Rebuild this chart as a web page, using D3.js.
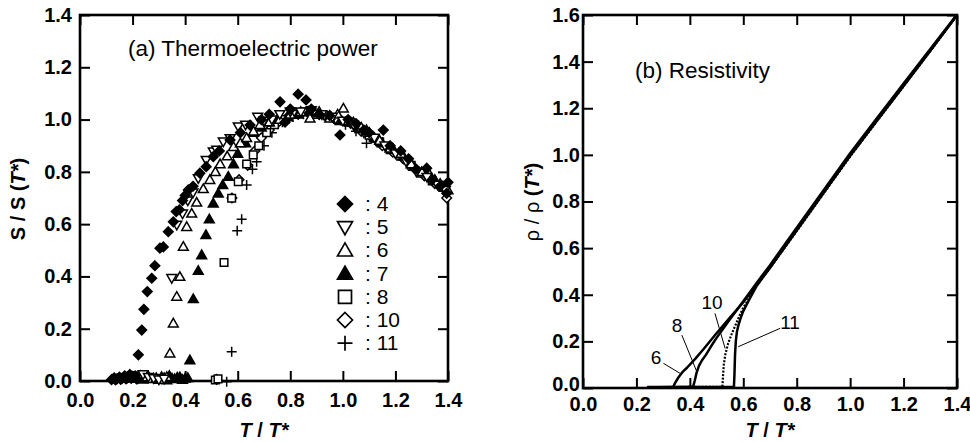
<!DOCTYPE html>
<html lang="en">
<head>
<meta charset="UTF-8">
<title>Thermoelectric power and resistivity</title>
<script src="https://cdnjs.cloudflare.com/ajax/libs/d3/7.8.5/d3.min.js"></script>
<style>
  body { margin: 0; background: #fff; }
  svg { display: block; font-family: "Liberation Sans", Arial, Helvetica, sans-serif; }
</style>
</head>
<body>
<svg id="main" width="970" height="442"></svg>
<script>
    // ---- (a) thermoelectric power, S/S(T*) vs T/T*  [x, y] ----
    const s4 = [[0.12,0.005],[0.13,0.012],[0.135,0.004],[0.14,0.008],[0.15,0.015],[0.155,0.006],[0.16,0.01],[0.17,0.02],[0.175,0.008],
        [0.18,0.012],[0.19,0.025],[0.195,0.01],[0.2,0.018],[0.21,0.02],[0.215,0.008],
        [0.222,0.10],[0.235,0.195],[0.243,0.274],[0.256,0.342],[0.273,0.393],[0.285,0.441],[0.304,0.508],[0.317,0.513],[0.336,0.571],[0.355,0.609],
        [0.366,0.648],[0.378,0.655],[0.39,0.69],[0.40,0.71],[0.412,0.731],[0.43,0.745],[0.456,0.795],[0.48,0.82],[0.507,0.858],[0.53,0.88],
        [0.571,0.922],[0.61,0.95],[0.647,0.979],[0.69,1.0],[0.72,1.02],[0.761,1.068],[0.78,0.99],[0.80,1.04],[0.83,1.097],[0.86,1.075],
        [0.88,1.04],[0.91,1.02],[0.95,1.015],[0.989,0.941],[1.02,1.0],[1.05,0.985],[1.08,0.96],[1.1,0.95],[1.154,0.96],[1.18,0.9],
        [1.22,0.88],[1.25,0.85],[1.28,0.81],[1.319,0.814],[1.34,0.77],[1.37,0.745],[1.395,0.718],[1.40,0.76]];
    const s5 = [[0.2,0.02],[0.22,0.01],[0.24,0.025],[0.26,0.015],[0.28,0.01],[0.3,0.005],[0.32,0.008],
        [0.349,0.393],[0.368,0.597],[0.39,0.64],[0.41,0.69],[0.43,0.72],[0.45,0.775],[0.48,0.845],[0.507,0.877],[0.52,0.884],
        [0.545,0.915],[0.571,0.928],[0.602,0.973],[0.63,0.98],[0.676,1.01],[0.70,0.995],[0.73,1.0],[0.76,1.02],[0.8,1.03],[0.84,1.03],
        [0.88,1.035],[0.92,1.02],[0.96,1.01],[1.0,0.995],[1.04,0.98],[1.08,0.95],[1.12,0.93],[1.16,0.9],[1.2,0.87],[1.24,0.84],
        [1.28,0.8],[1.32,0.78],[1.36,0.75],[1.39,0.73]];
    const s6 = [[0.2,0.01],[0.23,0.02],[0.25,0.015],[0.27,0.008],[0.29,0.012],[0.31,0.005],
        [0.33,0.016],[0.342,0.106],[0.355,0.221],[0.368,0.323],[0.38,0.399],[0.393,0.514],[0.406,0.59],[0.425,0.641],[0.444,0.683],
        [0.469,0.735],[0.494,0.77],[0.515,0.8],[0.533,0.83],[0.56,0.86],[0.584,0.896],[0.61,0.91],[0.634,0.93],[0.66,0.955],[0.685,0.98],
        [0.72,0.99],[0.76,1.0],[0.8,1.02],[0.84,1.03],[0.875,1.005],[0.91,1.03],[0.95,1.005],[0.98,1.02],[1.002,1.043],[1.04,0.99],
        [1.07,0.97],[1.1,0.95],[1.14,0.92],[1.18,0.89],[1.22,0.87],[1.26,0.83],[1.3,0.8],[1.33,0.79],[1.37,0.755],[1.4,0.73]];
    const s7 = [[0.22,0.012],[0.24,0.006],[0.26,0.018],[0.28,0.01],[0.3,0.005],[0.31,0.016],[0.32,0.012],[0.33,0.004],[0.34,0.02],
        [0.35,0.01],[0.36,0.008],[0.37,0.014],[0.38,0.015],[0.39,0.005],[0.4,0.01],[0.41,0.012],
        [0.418,0.08],[0.431,0.314],[0.45,0.422],[0.463,0.482],[0.479,0.559],[0.492,0.619],[0.507,0.68],[0.526,0.718],[0.543,0.75],
        [0.564,0.782],[0.584,0.83],[0.60,0.87],[0.63,0.91],[0.66,0.95],[0.69,0.97],[0.72,0.99],[0.75,1.0],[0.79,1.01],[0.83,1.02],
        [0.87,1.03],[0.91,1.025],[0.95,1.015],[0.99,0.995],[1.03,0.99],[1.06,0.97],[1.09,0.96],[1.12,0.93],[1.15,0.91],[1.19,0.89],
        [1.23,0.86],[1.27,0.82],[1.31,0.8],[1.35,0.77],[1.39,0.745]];
    const s8 = [[0.515,0.004],[0.525,0.008],[0.548,0.453],[0.577,0.699],[0.602,0.762],[0.634,0.83],[0.659,0.865],[0.68,0.9],[0.71,0.95],
        [0.74,0.98],[0.78,1.0],[0.82,1.02],[0.86,1.03],[0.9,1.02],[0.94,1.015],[0.98,1.0],[1.02,0.99],[1.06,0.965],[1.1,0.94],
        [1.14,0.915],[1.18,0.885],[1.22,0.86],[1.26,0.825],[1.3,0.795],[1.34,0.765],[1.38,0.74]];
    const s10 = [[0.52,0.006],[0.578,0.70],[0.605,0.77],[0.638,0.825],[0.665,0.88],[0.69,0.93],[0.72,0.96],[0.75,0.985],[0.79,1.01],
        [0.83,1.02],[0.87,1.025],[0.91,1.02],[0.95,1.01],[0.99,1.0],[1.03,0.985],[1.07,0.955],[1.11,0.93],[1.15,0.9],[1.19,0.875],
        [1.23,0.85],[1.27,0.815],[1.31,0.785],[1.35,0.755],[1.395,0.70]];
    const s11 = [[0.558,-0.003],[0.577,0.112],[0.598,0.575],[0.615,0.619],[0.634,0.75],[0.656,0.81],[0.672,0.839],[0.7,0.9],[0.73,0.95],
        [0.77,0.99],[0.81,1.01],[0.85,1.02],[0.89,1.03],[0.93,1.015],[0.97,1.0],[1.01,0.98],[1.05,0.955],[1.09,0.909],[1.13,0.915],
        [1.17,0.895],[1.21,0.865],[1.25,0.835],[1.29,0.8],[1.33,0.78],[1.37,0.75]];

    const legendNames = ['4', '5', '6', '7', '8', '10', '11'];
    const legendSymbols = ['diamondFill', 'triDown', 'tri', 'triFill', 'square', 'diamond', 'plus'];

    // ---- (b) resistivity, rho/rho(T*) vs T/T* ----
    const r6 = [[0.24,0.004],[0.338,0.005],[0.345,0.022],[0.357,0.045],[0.372,0.068],[0.39,0.088],[0.42,0.125],[0.45,0.165],[0.5,0.235],
        [0.55,0.302],[0.6,0.368],[0.65,0.443],[0.7,0.518],[0.8,0.678],[0.9,0.838],[1.0,0.997],[1.1,1.148],[1.2,1.298],[1.3,1.448],[1.4,1.6]];
    const r8 = [[0.27,0.003],[0.412,0.005],[0.418,0.03],[0.425,0.065],[0.434,0.095],[0.445,0.118],[0.46,0.142],[0.48,0.18],[0.5,0.215],
        [0.55,0.295],[0.6,0.372],[0.65,0.451],[0.7,0.527],[0.8,0.688],[0.9,0.847],[1.0,1.007],[1.1,1.157],[1.2,1.306],[1.3,1.454],[1.4,1.602]];
    const r10 = [[0.3,0.004],[0.522,0.005],[0.524,0.05],[0.527,0.1],[0.533,0.145],[0.543,0.19],[0.556,0.23],[0.57,0.268],[0.585,0.308],
        [0.6,0.345],[0.615,0.372],[0.65,0.44],[0.7,0.514],[0.8,0.673],[0.9,0.833],[1.0,0.993],[1.1,1.144],[1.2,1.294],[1.3,1.445],[1.4,1.598]];
    const r11 = [[0.35,0.004],[0.565,0.005],[0.567,0.06],[0.569,0.14],[0.572,0.2],[0.576,0.24],[0.582,0.27],[0.59,0.3],[0.6,0.33],
        [0.61,0.352],[0.625,0.385],[0.65,0.438],[0.7,0.516],[0.8,0.676],[0.9,0.836],[1.0,0.996],[1.1,1.146],[1.2,1.296],[1.3,1.447],[1.4,1.6]];

    // curve labels: text position, then leader line start -> end (data units)
    const curveLabels = [
        { name: '6',  at: [0.273, 0.133], from: [0.301, 0.106], to: [0.363, 0.063] },
        { name: '8',  at: [0.352, 0.27],  from: [0.370, 0.227], to: [0.426, 0.070] },
        { name: '10', at: [0.483, 0.37],  from: [0.494, 0.320], to: [0.532, 0.170] },
        { name: '11', at: [0.775, 0.285], from: [0.738, 0.256], to: [0.581, 0.177] }
    ];

    const xTicks = [0, 0.2, 0.4, 0.6, 0.8, 1.0, 1.2, 1.4];
    const sTicks = [0, 0.2, 0.4, 0.6, 0.8, 1.0, 1.2, 1.4];
    const rhoTicks = [0, 0.2, 0.4, 0.6, 0.8, 1.0, 1.2, 1.4, 1.6];

    const svg = d3.select('#main');
    const fmt = d3.format('.1f');

    const xA = d3.scaleLinear().domain([0, 1.4]).range([80, 448]);
    const yA = d3.scaleLinear().domain([0, 1.4]).range([381, 15]);
    const xB = d3.scaleLinear().domain([0, 1.4]).range([583, 957]);
    const yB = d3.scaleLinear().domain([0, 1.6]).range([388, 15]);

    function frame(x, y, yt, padX, padY) {
        const [x0, x1] = x.range(), [y0, y1] = y.range();
        const g = svg.append('g');
        const ax = (axis, tx, ty) => {
            const a = g.append('g').attr('transform', `translate(${tx},${ty})`).call(axis);
            a.select('.domain').remove();
            a.selectAll('.tick line').attr('stroke', '#000').attr('stroke-width', 2);
            a.selectAll('text').attr('font-size', 20).attr('font-weight', 'bold')
                .attr('font-family', '"Liberation Sans", Arial, sans-serif').attr('fill', '#000');
            return a;
        };
        ax(d3.axisBottom(x).tickValues(xTicks).tickFormat(fmt).tickSize(-10).tickPadding(padX), 0, y0);
        ax(d3.axisTop(x).tickValues(xTicks).tickFormat('').tickSize(-10), 0, y1);
        const left = ax(d3.axisLeft(y).tickValues(yt).tickFormat(fmt).tickSize(-10).tickPadding(padY), x0, 0);
        ax(d3.axisRight(y).tickValues(yt).tickFormat('').tickSize(-10), x1, 0);
        g.append('rect').attr('x', x0).attr('y', y1).attr('width', x1 - x0).attr('height', y0 - y1)
            .attr('fill', 'none').attr('stroke', '#000').attr('stroke-width', 2.6);
        return left;
    }

    frame(xA, yA, sTicks, 12, 8);
    const leftB = frame(xB, yB, rhoTicks, 9, 3);
    // lift the corner "0.0" a little so it does not sit on the x label
    leftB.selectAll('.tick text').filter(d => d === 0).attr('dy', '0.1em');

    // marker shapes
    const shapes = {
        diamondFill: { d: r => `M0,${-r}L${r},0L0,${r}L${-r},0Z`, fill: '#000', r: 4.8 },
        diamond:     { d: r => `M0,${-r}L${r},0L0,${r}L${-r},0Z`, fill: '#fff', r: 4.8 },
        tri:         { d: r => `M0,${-r}L${r},${r * 0.75}L${-r},${r * 0.75}Z`, fill: '#fff', r: 4.9 },
        triFill:     { d: r => `M0,${-r}L${r},${r * 0.75}L${-r},${r * 0.75}Z`, fill: '#000', r: 4.9 },
        triDown:     { d: r => `M0,${r}L${r},${-r * 0.75}L${-r},${-r * 0.75}Z`, fill: '#fff', r: 4.9 },
        square:      { d: r => `M${-r},${-r}H${r}V${r}H${-r}Z`, fill: '#fff', r: 3.8 },
        plus:        { d: r => `M${-r},0H${r}M0,${-r}V${r}`, fill: 'none', r: 5 }
    };

    function drawSeries(data, type) {
        const sh = shapes[type];
        svg.append('g').selectAll('path').data(data).join('path')
            .attr('transform', d => `translate(${xA(d[0])},${yA(d[1])})`)
            .attr('d', sh.d(sh.r))
            .attr('fill', sh.fill).attr('stroke', '#000').attr('stroke-width', 1.5);
    }

    drawSeries(s11, 'plus');
    drawSeries(s10, 'diamond');
    drawSeries(s8, 'square');
    drawSeries(s7, 'triFill');
    drawSeries(s6, 'tri');
    drawSeries(s5, 'triDown');
    drawSeries(s4, 'diamondFill');

    // panel (a) texts
    svg.append('text').attr('x', 128).attr('y', 56).attr('font-size', 22.5)
        .text('(a) Thermoelectric power');

    const leg = svg.append('g').selectAll('g').data(legendNames).join('g')
        .attr('transform', (d, i) => `translate(345,${204 + i * 23.2})`);
    leg.append('path')
        .attr('d', (d, i) => shapes[legendSymbols[i]].d(legendSymbols[i] === 'square' ? 6.5 : 7.5))
        .attr('fill', (d, i) => shapes[legendSymbols[i]].fill)
        .attr('stroke', '#000').attr('stroke-width', 1.7);
    leg.append('text').attr('x', 20).attr('y', 7).attr('font-size', 21).text(d => ': ' + d);

    // axis titles
    const tT = (x, y) => {
        const t = svg.append('text').attr('x', x).attr('y', y).attr('text-anchor', 'middle')
            .attr('font-size', 20).attr('font-weight', 'bold');
        t.append('tspan').attr('font-style', 'italic').text('T');
        t.append('tspan').text(' / ');
        t.append('tspan').attr('font-style', 'italic').text('T*');
    };
    tT(264, 437);
    tT(770, 437);

    const yt1 = svg.append('text').attr('transform', 'translate(25,199) rotate(-90)')
        .attr('text-anchor', 'middle').attr('font-size', 20).attr('font-weight', 'bold');
    yt1.append('tspan').text('S / S (');
    yt1.append('tspan').attr('font-style', 'italic').text('T*');
    yt1.append('tspan').text(')');

    const yt2 = svg.append('text').attr('transform', 'translate(539,202) rotate(-90)')
        .attr('text-anchor', 'middle').attr('font-size', 20);
    yt2.append('tspan').text('ρ / ρ ');
    yt2.append('tspan').attr('font-weight', 'bold').text('(');
    yt2.append('tspan').attr('font-weight', 'bold').attr('font-style', 'italic').text('T*');
    yt2.append('tspan').attr('font-weight', 'bold').text(')');

    // panel (b) curves
    const line = d3.line().x(d => xB(d[0])).y(d => yB(d[1]));
    svg.append('path').datum(r10).attr('d', line).attr('fill', 'none')
        .attr('stroke', '#000').attr('stroke-width', 2.2).attr('stroke-dasharray', '2,1.5');
    [r6, r8, r11].forEach(r => {
        svg.append('path').datum(r).attr('d', line).attr('fill', 'none')
            .attr('stroke', '#000').attr('stroke-width', 2.5).attr('stroke-linejoin', 'round');
    });

    const cl = svg.append('g').selectAll('g').data(curveLabels).join('g');
    cl.append('line')
        .attr('x1', d => xB(d.from[0])).attr('y1', d => yB(d.from[1]))
        .attr('x2', d => xB(d.to[0])).attr('y2', d => yB(d.to[1]))
        .attr('stroke', '#000').attr('stroke-width', 1);
    cl.append('text').attr('x', d => xB(d.at[0])).attr('y', d => yB(d.at[1]) + 7)
        .attr('text-anchor', 'middle').attr('font-size', 19).text(d => d.name);

    svg.append('text').attr('x', 635).attr('y', 78).attr('font-size', 22.5).text('(b) Resistivity');
</script>
</body>
</html>
